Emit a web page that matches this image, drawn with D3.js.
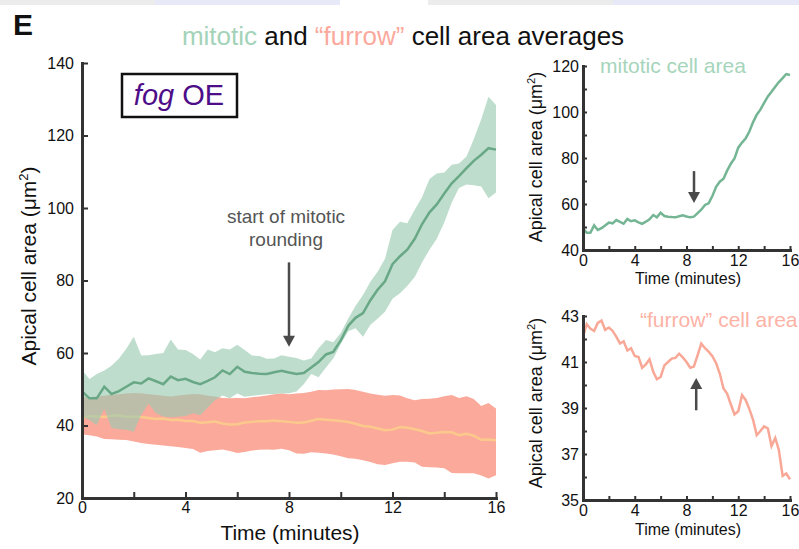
<!DOCTYPE html>
<html>
<head>
<meta charset="utf-8">
<script src="https://cdn.jsdelivr.net/npm/d3@7/dist/d3.min.js"></script>
<style>
body { margin: 0; background: #fff; }
svg text { font-family: "Liberation Sans", Arial, sans-serif; }
</style>
</head>
<body>
<div id="graphique"></div>
<script>
// temps en minutes (une image toutes les ~17 s)
let temps = [0, 0.29, 0.57, 0.86, 1.14, 1.43, 1.71, 2, 2.29, 2.57, 2.86, 3.14, 3.43, 3.71, 4, 4.29, 4.57, 4.86,
    5.14, 5.43, 5.71, 6, 6.29, 6.57, 6.86, 7.14, 7.43, 7.71, 8, 8.29, 8.57, 8.86, 9.14, 9.43, 9.71, 10, 10.29,
    10.57, 10.86, 11.14, 11.43, 11.71, 12, 12.29, 12.57, 12.86, 13.14, 13.43, 13.71, 14, 14.29, 14.57, 14.86,
    15.14, 15.43, 15.71, 16];

// cellules mitotiques : moyenne + bande
let mitoticMean = [49.4, 47.5, 47.5, 50.7, 48.7, 49.5, 50.7, 51.9, 51.6, 53.0, 52.2, 51.4, 53.5, 52.5, 52.9, 52.0,
    51.4, 52.3, 53.3, 55.2, 54.2, 56.2, 54.8, 54.5, 54.3, 54.2, 54.7, 55.1, 54.6, 54.2, 54.5, 56.0, 57.5, 59.6,
    60.3, 63.5, 67.5, 69.7, 71.0, 74.5, 77.5, 79.8, 84.5, 86.7, 88.5, 91.5, 95.5, 98.8, 101.0, 104.0, 106.8,
    108.8, 111.0, 113.0, 114.7, 116.5, 116.1];
let mitoticHaut = [55.3, 52.8, 54.2, 55.2, 56.5, 58.5, 61.2, 64.5, 59.3, 59.4, 59.7, 60.0, 63.7, 61.0, 60.8, 59.7,
    58.2, 61.0, 60.2, 61.3, 61.0, 62.3, 60.8, 59.3, 59.2, 58.4, 58.5, 59.4, 59.0, 58.6, 57.9, 58.5, 61.3, 63.6,
    63.0, 65.5, 69.5, 73.0, 76.0, 79.6, 82.5, 86.0, 93.9, 96.2, 95.8, 99.5, 103.0, 108.0, 109.5, 109.8, 111.9,
    112.3, 114.2, 119.0, 124.5, 130.7, 128.4];
let mitoticBas = [42.4, 41.5, 40.1, 44.7, 39.3, 39.0, 38.8, 38.3, 43.0, 46.0, 43.4, 42.5, 42.3, 42.4, 42.6, 43.4,
    42.8, 45.0, 47.0, 48.3, 47.5, 48.8, 47.9, 48.2, 48.4, 48.6, 48.7, 48.8, 48.9, 49.4, 51.4, 54.2, 53.3, 56.0,
    58.5, 62.5, 66.0, 66.8, 64.5, 67.7, 69.5, 71.4, 75.0, 76.5, 78.5, 81.0, 85.0, 88.5, 91.5, 96.0, 101.5, 105.5,
    106.5, 106.3, 105.9, 102.7, 104.3];

// cellules "furrow" : moyenne + bande
let furrowMean = [42.1, 42.65, 42.45, 42.35, 42.7, 42.8, 42.4, 42.5, 42.35, 42.1, 41.8, 41.9, 41.5, 41.6, 41.26,
    41.22, 40.75, 40.9, 41.12, 40.57, 40.25, 40.35, 40.85, 41.0, 41.15, 41.18, 41.36, 41.2, 41.0, 40.75, 40.8,
    41.3, 41.8, 41.6, 41.45, 41.25, 40.95, 40.5, 39.85, 39.63, 39.15, 38.72, 38.86, 39.56, 39.35, 38.95, 38.5,
    37.82, 38.0, 38.2, 38.11, 37.35, 37.7, 37.17, 36.05, 36.15, 35.9];
let furrowHaut = [47.8, 47.8, 48.0, 48.2, 48.5, 48.6, 48.8, 49.0, 48.9, 48.6, 48.4, 48.2, 48.0, 48.3, 48.5, 48.7,
    48.6, 48.2, 48.0, 47.6, 47.5, 47.6, 47.5, 47.8, 48.0, 48.3, 48.6, 48.8, 48.6, 48.8, 49.0, 49.3, 49.8, 49.7,
    49.9, 50.0, 50.1, 49.8, 49.3, 48.8, 48.5, 48.2, 48.4, 48.3, 47.5, 47.0, 47.3, 47.4, 47.6, 48.1, 48.4, 47.6,
    48.1, 47.3, 45.4, 46.2, 44.7];
let furrowBas = [37.6, 37.3, 37.0, 36.3, 36.2, 36.1, 36.0, 35.6, 35.2, 34.9, 34.7, 34.5, 34.3, 34.1, 33.8, 33.5,
    32.5, 33.0, 33.2, 33.4, 33.0, 32.4, 32.7, 33.1, 33.3, 33.4, 33.3, 33.6, 33.2, 32.3, 32.2, 32.6, 32.5, 32.3,
    32.0, 31.5, 31.0, 30.8, 30.4, 29.9, 29.3, 29.1, 29.6, 30.0, 30.0, 29.8, 28.6, 28.5, 28.4, 28.2, 26.9, 26.8,
    26.8, 26.8, 26.2, 25.4, 26.3];

// graduations
let xTicks = [0, 2, 4, 6, 8, 10, 12, 14, 16];
let xLabels = [0, 4, 8, 12, 16];
let yTicksMain = [20, 40, 60, 80, 100, 120, 140];
let yTicksMito = [40, 50, 60, 70, 80, 90, 100, 110, 120];
let yLabelsMito = [40, 60, 80, 100, 120];
let yTicksFurrow = [35, 36, 37, 38, 39, 40, 41, 42, 43];
let yLabelsFurrow = [35, 37, 39, 41, 43];

// flèches : temps, début, pointe (en unités du graphique)
let flecheMain = { t: 8, debut: 85, pointe: 61.7 };
let flecheMito = { t: 8.58, debut: 74.3, pointe: 60.4 };
let flecheFurrow = { t: 8.75, debut: 38.9, pointe: 40.3 };

let svg = d3.select("#graphique").append("svg")
    .attr("width", 799)
    .attr("height", 549);

// restes de bandeau en haut de la figure
svg.append("rect").attr("x", 0).attr("y", 0).attr("width", 155).attr("height", 5).attr("fill", "#ececec");
svg.append("rect").attr("x", 155).attr("y", 0).attr("width", 185).attr("height", 5).attr("fill", "#e7e9f8");
svg.append("rect").attr("x", 428).attr("y", 0).attr("width", 185).attr("height", 5).attr("fill", "#ececec");
svg.append("rect").attr("x", 613).attr("y", 0).attr("width", 186).attr("height", 5).attr("fill", "#e7e9f8");

// lettre du panneau + titre
svg.append("text").attr("x", 13).attr("y", 35)
    .attr("font-size", 30).attr("font-weight", "bold").attr("fill", "#111").text("E");

let titre = svg.append("text").attr("x", 403).attr("y", 45)
    .attr("font-size", 26).attr("text-anchor", "middle").attr("fill", "#111");
titre.append("tspan").attr("fill", "#a3d3b8").text("mitotic");
titre.append("tspan").text(" and ");
titre.append("tspan").attr("fill", "#fba99c").text("\u201cfurrow\u201d");
titre.append("tspan").text(" cell area averages");

function ligne(x, y, valeurs) {
    return d3.line()
        .x(function (d, i) { return x(temps[i]) })
        .y(function (d) { return y(d) })(valeurs);
}

function bande(x, y, haut, bas) {
    return d3.area()
        .x(function (d, i) { return x(temps[i]) })
        .y0(function (d, i) { return y(bas[i]) })
        .y1(function (d) { return y(d) })(haut);
}

function dessineAxes(g, x, y, ticksX, labelsX, ticksY, labelsY, taille, padX, padY, police) {
    let axeX = d3.axisBottom(x).tickValues(ticksX)
        .tickSizeInner(-taille).tickSizeOuter(0).tickPadding(padX)
        .tickFormat(function (d) { return labelsX.includes(d) ? d : "" });
    let axeY = d3.axisLeft(y).tickValues(ticksY)
        .tickSizeInner(-taille).tickSizeOuter(0).tickPadding(padY)
        .tickFormat(function (d) { return labelsY.includes(d) ? d : "" });

    let gx = g.append("g").attr("transform", "translate(0," + y.range()[0] + ")").call(axeX);
    let gy = g.append("g").attr("transform", "translate(" + x.range()[0] + ",0)").call(axeY);

    [gx, gy].forEach(function (a) {
        a.select(".domain").attr("stroke", "#333").attr("stroke-width", 3).attr("stroke-linecap", "square");
        a.selectAll(".tick line").attr("stroke", "#333").attr("stroke-width", 2);
        a.selectAll(".tick text").attr("fill", "#111").attr("font-size", police)
            .attr("font-family", "Liberation Sans, Arial, sans-serif");
    });
}

function dessineFleche(g, x, y, f) {
    let px = x(f.t);
    let y0 = y(f.debut);
    let y1 = y(f.pointe);
    let sens = y1 > y0 ? 1 : -1;
    let tete = 11;
    g.append("line")
        .attr("x1", px).attr("x2", px)
        .attr("y1", y0).attr("y2", y1 - sens * (tete - 1))
        .attr("stroke", "#4a4a4a").attr("stroke-width", 2.5);
    g.append("path")
        .attr("d", "M" + (px - 6) + "," + (y1 - sens * tete) + "L" + (px + 6) + "," + (y1 - sens * tete) + "L" + px + "," + y1 + "Z")
        .attr("fill", "#4a4a4a");
}

function labelY(x, y, taille) {
    let t = svg.append("text")
        .attr("transform", "translate(" + x + "," + y + ") rotate(-90)")
        .attr("text-anchor", "middle").attr("font-size", taille).attr("fill", "#111");
    t.append("tspan").text("Apical cell area (\u03bcm");
    t.append("tspan").attr("font-size", taille * 0.62).attr("dy", -taille * 0.38).text("2");
    t.append("tspan").attr("dy", taille * 0.38).text(")");
}

// ---------- graphique principal ----------
let xMain = d3.scaleLinear().domain([0, 16]).range([82, 496]);
let yMain = d3.scaleLinear().domain([20, 140]).range([498, 63]);
let gMain = svg.append("g");

gMain.append("path").attr("d", bande(xMain, yMain, furrowHaut, furrowBas)).attr("fill", "#fba99b");
gMain.append("path").attr("d", ligne(xMain, yMain, furrowMean))
    .attr("fill", "none").attr("stroke", "#fbc98c").attr("stroke-width", 2.5);
gMain.append("path").attr("d", bande(xMain, yMain, mitoticHaut, mitoticBas))
    .attr("fill", "rgb(153,202,177)").attr("fill-opacity", 0.64);
gMain.append("path").attr("d", ligne(xMain, yMain, mitoticMean))
    .attr("fill", "none").attr("stroke", "#69a886").attr("stroke-width", 2.5);

dessineAxes(gMain, xMain, yMain, xTicks, xLabels, yTicksMain, yTicksMain, 6, 4, 8, 16);
dessineFleche(gMain, xMain, yMain, flecheMain);

gMain.append("text").attr("x", 286).attr("y", 223).attr("text-anchor", "middle")
    .attr("font-size", 19).attr("fill", "#555").text("start of mitotic");
gMain.append("text").attr("x", 286).attr("y", 246).attr("text-anchor", "middle")
    .attr("font-size", 19).attr("fill", "#555").text("rounding");

// encadré fog OE
gMain.append("rect").attr("x", 122).attr("y", 74).attr("width", 115).attr("height", 43)
    .attr("fill", "#fff").attr("stroke", "#111").attr("stroke-width", 2.5);
let legende = gMain.append("text").attr("x", 179).attr("y", 105).attr("text-anchor", "middle")
    .attr("font-size", 29).attr("fill", "#4e0d88");
legende.append("tspan").attr("font-style", "italic").text("fog");
legende.append("tspan").text(" OE");

labelY(36, 266, 21);
svg.append("text").attr("x", 290).attr("y", 540).attr("text-anchor", "middle")
    .attr("font-size", 21).attr("fill", "#111").text("Time (minutes)");

// ---------- petit graphique : cellules mitotiques ----------
let xMito = d3.scaleLinear().domain([0, 16]).range([583, 790]);
let yMito = d3.scaleLinear().domain([40, 120]).range([250, 66]);
let gMito = svg.append("g");
gMito.append("path").attr("d", ligne(xMito, yMito, mitoticMean))
    .attr("fill", "none").attr("stroke", "#74b594").attr("stroke-width", 2.5);
dessineAxes(gMito, xMito, yMito, xTicks, xLabels, yTicksMito, yLabelsMito, 4, 5, 4, 16);
dessineFleche(gMito, xMito, yMito, flecheMito);
gMito.append("text").attr("x", 600).attr("y", 73).attr("font-size", 21)
    .attr("fill", "#a6d5bb").text("mitotic cell area");
labelY(542, 157, 18);
svg.append("text").attr("x", 688).attr("y", 284).attr("text-anchor", "middle")
    .attr("font-size", 16).attr("fill", "#111").text("Time (minutes)");

// ---------- petit graphique : cellules furrow ----------
let xFur = d3.scaleLinear().domain([0, 16]).range([583, 790]);
let yFur = d3.scaleLinear().domain([35, 43]).range([500, 316]);
let gFur = svg.append("g");
gFur.append("path").attr("d", ligne(xFur, yFur, furrowMean))
    .attr("fill", "none").attr("stroke", "#f9a796").attr("stroke-width", 2.5);
dessineAxes(gFur, xFur, yFur, xTicks, xLabels, yTicksFurrow, yLabelsFurrow, 4, 5, 4, 16);
dessineFleche(gFur, xFur, yFur, flecheFurrow);
gFur.append("text").attr("x", 640).attr("y", 327).attr("font-size", 21)
    .attr("fill", "#fcb2a5").text("\u201cfurrow\u201d cell area");
labelY(542, 403, 18);
svg.append("text").attr("x", 688).attr("y", 535).attr("text-anchor", "middle")
    .attr("font-size", 16).attr("fill", "#111").text("Time (minutes)");
</script>
</body>
</html>
